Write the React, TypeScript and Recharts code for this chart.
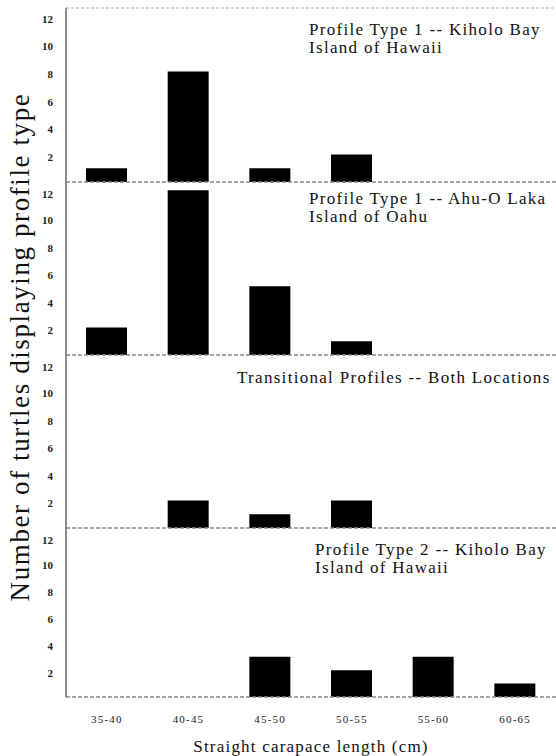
import { BarChart, Bar, XAxis, YAxis, ReferenceLine } from 'recharts'

const sizeClasses = ['35-40', '40-45', '45-50', '50-55', '55-60', '60-65']
const kiholoType1 = [1, 8, 1, 2, 0, 0]
const ahuOLakaType1 = [2, 12, 5, 1, 0, 0]
const transitional = [0, 2, 1, 2, 0, 0]
const kiholoType2 = [0, 0, 3, 2, 3, 1]
const yTicks = [2, 4, 6, 8, 10, 12]

const SERIF = '"Liberation Serif", "DejaVu Serif", serif'

const rows = (vals: number[]) => sizeClasses.map((c, i) => ({ size: c, count: vals[i] }))

function YTick(props: any) {
  const { x, y, payload } = props
  return (
    <text x={x} y={y + 4} textAnchor="end" dominantBaseline="middle" fontFamily={SERIF} fontWeight="bold" fontSize={11} fill="#222">
      {payload.value}
    </text>
  )
}

function XTick(props: any) {
  const { x, y, payload } = props
  return (
    <text x={x} y={y + 18} textAnchor="middle" fontFamily={SERIF} fontSize={11} letterSpacing={1.2} fill="#222">
      {payload.value}
    </text>
  )
}

interface PanelProps {
  top: number
  plotHeight: number
  values: number[]
  showX?: boolean
  topLine?: boolean
}

function Panel({ top, plotHeight, values, showX, topLine }: PanelProps) {
  const xh = showX ? 59 : 1
  const mt = topLine ? 2 : 0
  return (
    <div style={{ position: 'absolute', left: 0, top: top - mt }}>
      <BarChart width={556} height={plotHeight + xh + mt} data={rows(values)} margin={{ top: mt, right: 0, bottom: 0, left: 0 }}>
        <XAxis
          dataKey="size"
          height={xh}
          tick={showX ? <XTick /> : false}
          tickLine={false}
          stroke="#888"
          axisLine={{ stroke: '#888', strokeDasharray: '4 2' }}
          interval={0}
        />
        <YAxis
          width={66}
          domain={[0, 12.6]}
          ticks={yTicks}
          tick={<YTick />}
          tickSize={0}
          tickMargin={13}
          axisLine={{ stroke: '#666', strokeWidth: 1.5 }}
          allowDataOverflow
        />
        {topLine && <ReferenceLine y={12.6} stroke="#aaa" strokeDasharray="3 2" ifOverflow="visible" />}
        <ReferenceLine y={0} stroke="#888" strokeDasharray="4 2" />
        <Bar dataKey="count" fill="#000" barSize={41} isAnimationActive={false} />
      </BarChart>
    </div>
  )
}

export default function App() {
  return (
    <div style={{ position: 'absolute', left: 0, top: 0, width: 556, height: 756, background: '#fff', overflow: 'hidden' }}>
      <Panel top={8} plotHeight={174} values={kiholoType1} topLine />
      <Panel top={182} plotHeight={173} values={ahuOLakaType1} />
      <Panel top={355} plotHeight={173} values={transitional} />
      <Panel top={528} plotHeight={169} values={kiholoType2} showX />
      <svg width={556} height={756} style={{ position: 'absolute', left: 0, top: 0, pointerEvents: 'none' }}>
        <g fontFamily={SERIF} fill="#111">
          <text x={309} y={35} fontSize={17} letterSpacing={1.3}>Profile Type 1 -- Kiholo Bay</text>
          <text x={309} y={53} fontSize={17} letterSpacing={1.3}>Island of Hawaii</text>
          <text x={309} y={204} fontSize={17} letterSpacing={1.3}>Profile Type 1 -- Ahu-O Laka</text>
          <text x={309} y={222} fontSize={17} letterSpacing={1.3}>Island of Oahu</text>
          <text x={237} y={383} fontSize={17} letterSpacing={1.3}>Transitional Profiles -- Both Locations</text>
          <text x={315} y={555} fontSize={17} letterSpacing={1.3}>Profile Type 2 -- Kiholo Bay</text>
          <text x={315} y={573} fontSize={17} letterSpacing={1.3}>Island of Hawaii</text>
          <text x={311} y={752} fontSize={17} letterSpacing={1.2} textAnchor="middle">Straight carapace length (cm)</text>
          <text
            x={0}
            y={0}
            fontSize={27}
            letterSpacing={1.6}
            textAnchor="middle"
            transform="translate(29, 347) rotate(-90)"
          >
            Number of turtles displaying profile type
          </text>
        </g>
      </svg>
    </div>
  )
}
